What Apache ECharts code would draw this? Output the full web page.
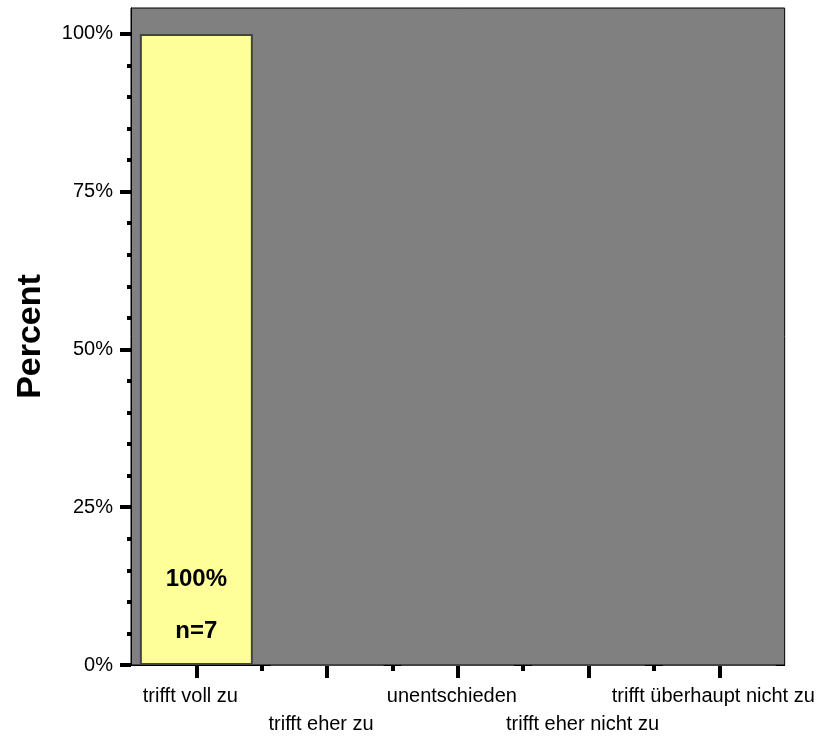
<!DOCTYPE html>
<html>
<head>
<meta charset="utf-8">
<script src="https://cdn.jsdelivr.net/npm/echarts@6/dist/echarts.min.js"></script>
<style>
html,body{margin:0;padding:0;background:#fff;}
#chart{width:829px;height:738px;}
</style>
</head>
<body>
<div id="chart"></div>
<script>
const categories = ['trifft voll zu', 'trifft eher zu', 'unentschieden', 'trifft eher nicht zu', 'trifft überhaupt nicht zu'];
const percents = [100, 0, 0, 0, 0];
const counts = [7, 0, 0, 0, 0];
const yMajorTicks = [0, 25, 50, 75, 100];
const yMinorTicks = [5, 10, 15, 20, 30, 35, 40, 45, 55, 60, 65, 70, 80, 85, 90, 95];
const xMinorTicks = [1, 2, 3, 4];

const FONT = '"Liberation Sans", Arial, sans-serif';
const chart = echarts.init(document.getElementById('chart'), null, {renderer: 'canvas'});

const option = {
  animation: false,
  backgroundColor: '#ffffff',
  grid: {
    left: 131, top: 8, width: 662, height: 661,
    show: true, backgroundColor: '#808080', borderColor: '#000000', borderWidth: 1
  },
  xAxis: [
    {
      type: 'category',
      data: categories,
      position: 'bottom',
      axisLine: {show: true, lineStyle: {color: '#000', width: 1}},
      axisTick: {show: true, alignWithLabel: true, length: 13, lineStyle: {color: '#000', width: 4}},
      axisLabel: {
        interval: 0, margin: 17, color: '#000', fontFamily: FONT, fontSize: 20, lineHeight: 28,
        padding: [0, 12, 0, 0],
        formatter: function (v, i) { return i % 2 === 1 ? '\n' + v : v; }
      },
      splitLine: {show: false}
    },
    {
      type: 'value',
      min: 0, max: 5,
      position: 'bottom',
      axisLine: {show: false},
      axisTick: {show: true, length: 6, customValues: xMinorTicks, lineStyle: {color: '#000', width: 4}},
      axisLabel: {show: false},
      splitLine: {show: false}
    }
  ],
  yAxis: [
    {
      type: 'value',
      min: 0, max: 104.1,
      position: 'left',
      name: 'Percent',
      nameLocation: 'middle',
      nameGap: 83,
      nameRotate: 90,
      nameTextStyle: {color: '#000', fontFamily: FONT, fontSize: 34, fontWeight: 'bold'},
      axisLine: {show: true, lineStyle: {color: '#000', width: 1}},
      axisTick: {show: true, length: 11, customValues: yMajorTicks, lineStyle: {color: '#000', width: 4}},
      axisLabel: {
        margin: 18, color: '#000', fontFamily: FONT, fontSize: 20,
        customValues: yMajorTicks,
        formatter: function (v) { return v + '%'; }
      },
      splitLine: {show: false}
    },
    {
      type: 'value',
      min: 0, max: 104.1,
      position: 'left',
      axisLine: {show: false},
      axisTick: {show: true, length: 4, customValues: yMinorTicks, lineStyle: {color: '#000', width: 4}},
      axisLabel: {show: false},
      splitLine: {show: false}
    }
  ],
  series: [
    {
      type: 'bar',
      xAxisIndex: 0,
      yAxisIndex: 0,
      data: percents,
      barWidth: 113,
      itemStyle: {color: '#ffff99', borderColor: '#444444', borderWidth: 2},
      label: {
        show: true,
        position: 'insideBottom',
        distance: 8,
        color: '#000',
        fontFamily: FONT,
        fontSize: 24,
        fontWeight: 'bold',
        lineHeight: 52,
        formatter: function (p) {
          if (!p.value) return '';
          return p.value + '%\nn=' + counts[p.dataIndex];
        }
      }
    }
  ]
};
chart.setOption(option);
</script>
</body>
</html>
